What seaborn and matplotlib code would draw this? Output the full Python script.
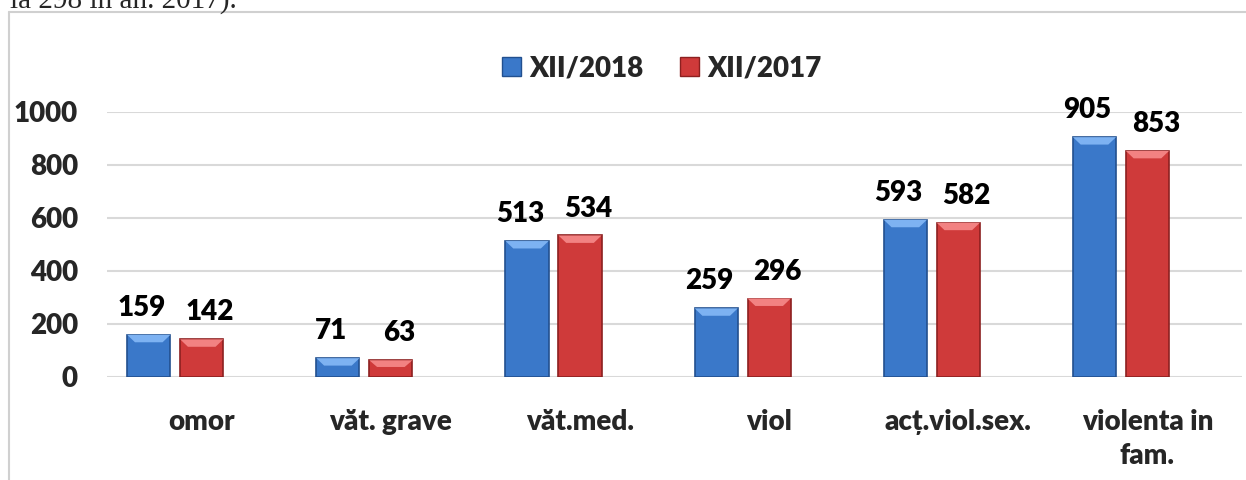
import seaborn as sns
import matplotlib.pyplot as plt
import pandas as pd
from matplotlib.patches import Patch, Polygon
from matplotlib.lines import Line2D

# date
categorii = ['omor', 'văt. grave', 'văt.med.', 'viol', 'acț.viol.sex.', 'violenta in\nfam.']
serii = ['XII/2018', 'XII/2017']
valori_2018 = [159, 71, 513, 259, 593, 905]
valori_2017 = [142, 63, 534, 296, 582, 853]
y_ticks = [0, 200, 400, 600, 800, 1000]
text_sus = 'la 298 în an. 2017).'

culori = {'XII/2018': '#3a78c9', 'XII/2017': '#cf3a3a'}
margini = {'XII/2018': '#22508f', 'XII/2017': '#8c2020'}
lumini = {'XII/2018': '#7db2f2', 'XII/2017': '#f28282'}

df = pd.DataFrame({
    'categorie': categorii * 2,
    'serie': [serii[0]] * len(categorii) + [serii[1]] * len(categorii),
    'valoare': valori_2018 + valori_2017,
})

sns.set_style('white')
plt.rcParams['font.family'] = ['Lato', 'DejaVu Sans']
plt.rcParams['font.weight'] = 'heavy'
FS = 20

fig = plt.figure(figsize=(12.46, 4.8), dpi=100)
ax = fig.add_axes([0.086, 0.2146, 0.9108, 0.5521])

sns.barplot(data=df, x='categorie', y='valoare', hue='serie', hue_order=serii,
            order=categorii, palette=culori, saturation=1, width=0.56, gap=0.186,
            legend=False, ax=ax, zorder=3)

# stil "bevel" + etichete de valori
deplasari = {'XII/2018': -5, 'XII/2017': 6}
for cont, serie in zip(ax.containers, serii):
    for bar in cont:
        bar.set_edgecolor(margini[serie])
        bar.set_linewidth(1.2)
        x0, w, h = bar.get_x(), bar.get_width(), bar.get_height()
        s = min(28, h * 0.4)
        ax.add_patch(Polygon([(x0, h), (x0 + w, h), (x0 + w * 0.82, h - s), (x0 + w * 0.18, h - s)],
                             closed=True, facecolor=lumini[serie], edgecolor='none', zorder=4))
        ax.annotate(f'{h:.0f}', (x0 + w / 2, h), xytext=(deplasari[serie], 10),
                    textcoords='offset points', ha='center', va='bottom',
                    fontsize=FS, fontweight='heavy', color='black')

ax.set_xticks([i + 0.14 for i in range(len(categorii))])
ax.set_xticklabels(categorii, fontsize=FS, fontweight='heavy', linespacing=1.4)
ax.set_xlim(-0.36, len(categorii) - 0.36)
ax.set_ylim(0, 1000)
ax.set_yticks(y_ticks)
ax.set_yticklabels([str(v) for v in y_ticks], fontsize=FS, fontweight='heavy')
ax.tick_params(axis='y', length=0, pad=21)
ax.tick_params(axis='x', length=0, pad=23)
ax.set_xlabel('')
ax.set_ylabel('')
ax.set_axisbelow(True)
ax.yaxis.grid(True, color='#d9d9d9', linewidth=1.5)
ax.xaxis.grid(False)
sns.despine(ax=ax, left=True, bottom=True)

handles = [Patch(facecolor=culori[s], edgecolor=margini[s]) for s in serii]
fig.legend(handles, serii, loc='center', bbox_to_anchor=(0.531, 0.858), ncol=2,
           frameon=False, prop={'size': FS, 'weight': 'heavy'},
           handlelength=0.7, handleheight=0.7, handletextpad=0.3, columnspacing=1.3)

# chenarul graficului si textul taiat de sus
bx, by = 9 / 1246, 1 - 12 / 480
fig.add_artist(Line2D([bx, bx], [0, by], color='#d0d0d0', linewidth=1.5))
fig.add_artist(Line2D([bx, 1], [by, by], color='#d0d0d0', linewidth=1.5))
fig.text(10 / 1246, 1 - 8 / 480, text_sus, family='Liberation Serif',
         fontsize=21, fontweight='normal', va='baseline')

fig.savefig('out.png', dpi=100)
